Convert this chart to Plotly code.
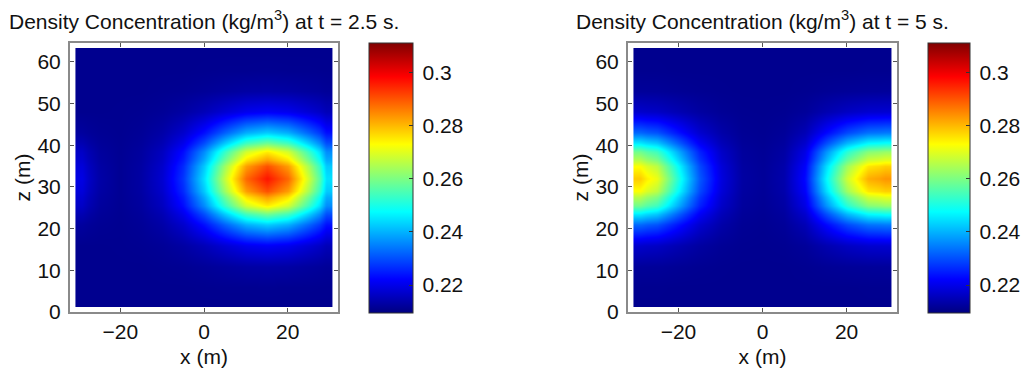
import plotly.graph_objects as go

# grid edges (m)
x_edges = [-30.7, -27.5, -22.5, -17.5, -12.5, -7.5, -2.5, 2.5, 7.5, 12.5, 17.5, 22.5, 27.5, 30.7]
z_edges = [1.2, 3.5, 8.5, 13.5, 18.5, 23.5, 27.5, 30.5, 33.5, 36.5, 40.5, 45.5, 50.5, 55.5, 60.5, 63.3]

# density at t = 2.5 s (rows: z from bottom to top; columns: x from left to right)
rho_t25 = [
    [.2110, .2110, .2110, .2110, .2110, .2110, .2110, .2110, .2110, .2110, .2110, .2110, .2110],
    [.2110, .2110, .2110, .2110, .2110, .2110, .2111, .2112, .2112, .2113, .2112, .2112, .2111],
    [.2110, .2110, .2110, .2110, .2112, .2114, .2119, .2125, .2131, .2133, .2131, .2125, .2119],
    [.2110, .2110, .2111, .2113, .2118, .2130, .2151, .2179, .2204, .2214, .2204, .2179, .2151],
    [.2125, .2115, .2112, .2118, .2134, .2171, .2235, .2319, .2395, .2426, .2395, .2319, .2235],
    [.2165, .2125, .2114, .2126, .2158, .2232, .2361, .2531, .2684, .2746, .2684, .2531, .2361],
    [.2185, .2132, .2115, .2130, .2170, .2262, .2423, .2636, .2826, .2904, .2826, .2636, .2423],
    [.2195, .2135, .2115, .2131, .2175, .2274, .2447, .2676, .2881, .2965, .2881, .2676, .2447],
    [.2185, .2132, .2115, .2130, .2170, .2262, .2423, .2636, .2826, .2904, .2826, .2636, .2423],
    [.2165, .2125, .2114, .2126, .2158, .2232, .2361, .2531, .2684, .2746, .2684, .2531, .2361],
    [.2125, .2115, .2112, .2118, .2134, .2171, .2235, .2319, .2395, .2426, .2395, .2319, .2235],
    [.2110, .2110, .2111, .2113, .2118, .2130, .2151, .2179, .2204, .2214, .2204, .2179, .2151],
    [.2110, .2110, .2110, .2110, .2112, .2114, .2119, .2125, .2131, .2133, .2131, .2125, .2119],
    [.2110, .2110, .2110, .2110, .2110, .2110, .2111, .2112, .2112, .2113, .2112, .2112, .2111],
    [.2110, .2110, .2110, .2110, .2110, .2110, .2110, .2110, .2110, .2110, .2110, .2110, .2110],
]

# density at t = 5 s
rho_t5 = [
    [.2110, .2110, .2110, .2110, .2110, .2110, .2110, .2110, .2110, .2110, .2110, .2110, .2110],
    [.2111, .2111, .2110, .2110, .2110, .2110, .2110, .2110, .2110, .2110, .2110, .2111, .2111],
    [.2121, .2120, .2116, .2113, .2111, .2110, .2110, .2110, .2112, .2116, .2119, .2121, .2122],
    [.2171, .2164, .2146, .2128, .2117, .2112, .2111, .2113, .2121, .2143, .2162, .2174, .2176],
    [.2325, .2303, .2239, .2174, .2136, .2116, .2113, .2120, .2149, .2226, .2293, .2335, .2343],
    [.2588, .2538, .2395, .2253, .2167, .2124, .2117, .2131, .2196, .2367, .2517, .2609, .2627],
    [.2726, .2661, .2478, .2294, .2184, .2128, .2119, .2138, .2220, .2441, .2634, .2753, .2776],
    [.2780, .2710, .2510, .2310, .2190, .2130, .2120, .2140, .2230, .2470, .2680, .2810, .2835],
    [.2726, .2661, .2478, .2294, .2184, .2128, .2119, .2138, .2220, .2441, .2634, .2753, .2776],
    [.2588, .2538, .2395, .2253, .2167, .2124, .2117, .2131, .2196, .2367, .2517, .2609, .2627],
    [.2325, .2303, .2239, .2174, .2136, .2116, .2113, .2120, .2149, .2226, .2293, .2335, .2343],
    [.2171, .2164, .2146, .2128, .2117, .2112, .2111, .2113, .2121, .2143, .2162, .2174, .2176],
    [.2121, .2120, .2116, .2113, .2111, .2110, .2110, .2110, .2112, .2116, .2119, .2121, .2122],
    [.2111, .2111, .2110, .2110, .2110, .2110, .2110, .2110, .2110, .2110, .2110, .2111, .2111],
    [.2110, .2110, .2110, .2110, .2110, .2110, .2110, .2110, .2110, .2110, .2110, .2110, .2110],
]

titles = ["Density Concentration (kg/m<sup>3</sup>) at t = 2.5 s.",
          "Density Concentration (kg/m<sup>3</sup>) at t = 5 s."]
x_ticks = [-20, 0, 20]
z_ticks = [0, 10, 20, 30, 40, 50, 60]
cb_ticks = [0.22, 0.24, 0.26, 0.28, 0.3]
cb_labels = ["0.22", "0.24", "0.26", "0.28", "0.3"]
c_min, c_max = 0.2095, 0.311

jet = [[0, "rgb(0,0,128)"], [0.125, "rgb(0,0,255)"], [0.375, "rgb(0,255,255)"],
       [0.625, "rgb(255,255,0)"], [0.875, "rgb(255,0,0)"], [1, "rgb(128,0,0)"]]

W, H = 1021, 373
FONT = "Liberation Sans, Arial, sans-serif"
TXT = "#111"

panels = [
    dict(z=rho_t25, x0=70, x1=338, cbx=369, cbw=44, title=titles[0]),
    dict(z=rho_t5, x0=628, x1=897, cbx=928, cbw=42, title=titles[1]),
]
ytop, ybot = 43, 312
cb_top, cb_bot = 43, 313

fig = go.Figure()
for i, p in enumerate(panels):
    sfx = "" if i == 0 else str(i + 1)
    fig.add_trace(go.Heatmap(
        z=p["z"], x=x_edges, y=z_edges, zsmooth="best",
        colorscale=jet, zmin=c_min, zmax=c_max,
        xaxis="x" + sfx, yaxis="y" + sfx,
        colorbar=dict(
            x=p["cbx"] / W, xanchor="left", xpad=0, ypad=0,
            y=1 - (cb_top + cb_bot) / 2 / H, yanchor="middle",
            len=cb_bot - cb_top, lenmode="pixels",
            thickness=p["cbw"], thicknessmode="pixels",
            outlinewidth=1, outlinecolor="#333",
            tickvals=cb_ticks, ticktext=["\u2009" + t for t in cb_labels],
            ticks="inside", ticklen=4, tickcolor="#333",
            tickfont=dict(family=FONT, size=21, color=TXT),
        ),
        showscale=True,
    ))
    ax = dict(
        domain=[p["x0"] / W, p["x1"] / W], range=[-32, 32],
        tickvals=x_ticks, ticks="inside", ticklen=4, tickcolor="#555",
        showline=True, linecolor="#8a8a8a", linewidth=2, mirror="ticks",
        showgrid=False, zeroline=False, ticklabelstandoff=0,
        tickfont=dict(family=FONT, size=21, color=TXT),
        title=dict(text="x (m)", font=dict(family=FONT, size=21, color=TXT), standoff=7),
        anchor="y" + sfx,
    )
    ay = dict(
        domain=[1 - ybot / H, 1 - ytop / H], range=[0, 64.5],
        tickvals=z_ticks, ticks="inside", ticklen=4, tickcolor="#555",
        showline=True, linecolor="#8a8a8a", linewidth=2, mirror="ticks",
        showgrid=False, zeroline=False, ticklabelstandoff=3,
        tickfont=dict(family=FONT, size=21, color=TXT),
        title=dict(text="z (m)", font=dict(family=FONT, size=21, color=TXT), standoff=1),
        anchor="x" + sfx,
    )
    fig.update_layout({"xaxis" + sfx: ax, "yaxis" + sfx: ay})
    fig.add_annotation(
        text=p["title"], xref="paper", yref="paper",
        x=(p["x0"] + p["x1"]) / 2 / W, y=1 - 20 / H, xanchor="center", yanchor="middle",
        showarrow=False, font=dict(family=FONT, size=21, color=TXT),
    )

fig.update_layout(
    width=W, height=H, margin=dict(l=0, r=0, t=0, b=0, autoexpand=False),
    paper_bgcolor="white", plot_bgcolor="white", showlegend=False,
)
fig.write_html("out.html")
